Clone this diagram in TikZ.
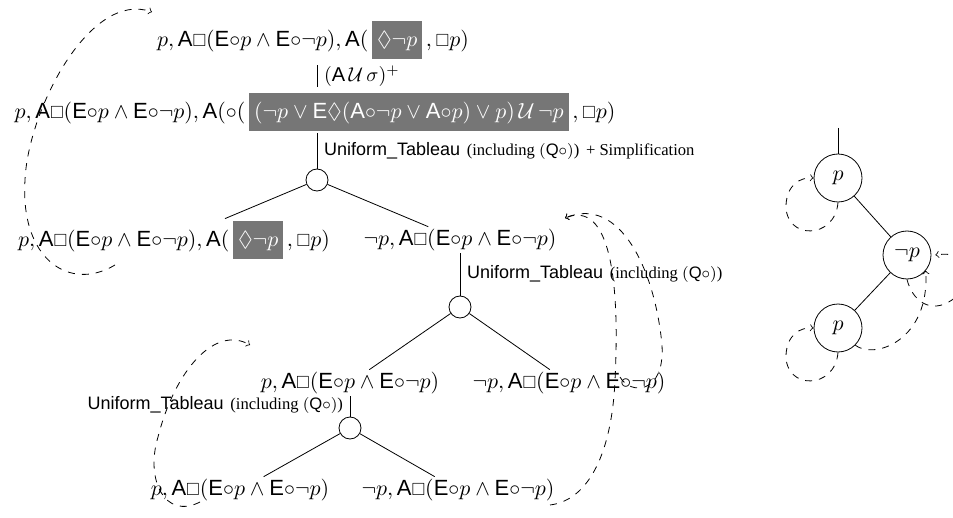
\documentclass[tikz,border=0pt]{standalone}
\usepackage{amssymb}
\usepackage{graphicx}
\usepackage{fontspec}
\setsansfont{Liberation Sans}
\newfontfamily\timesfont{Liberation Serif}
\definecolor{boxgray}{RGB}{118,118,118}
\newcommand{\pA}{\mathsf{A}}
\newcommand{\pE}{\mathsf{E}}
\newcommand{\sqbox}{\mathord{\scalebox{0.8}{$\Box$}}}
\newcommand{\greybox}[1]{{\setlength{\fboxsep}{2.5pt}\colorbox{boxgray}{\rule[-3.5pt]{0pt}{14pt}$\color{white}#1$}}}
\newcommand{\loopformula}{\pA\sqbox(\pE{\circ}p\wedge\pE{\circ}\neg p)}
\newcommand{\rulename}{{\fontsize{9}{11}\selectfont\textsf{Uniform\_Tableau}} {\fontsize{8.3}{10}\timesfont(including $(\mathsf{Q}{\circ})$)}}

\begin{document}
\begin{tikzpicture}[x=0.5pt,y=-0.5pt,
  formula/.style={inner sep=1pt,font=\fontsize{11}{13}\selectfont},
  branch/.style={draw,circle,minimum size=11pt,inner sep=0pt},
  state/.style={draw,circle,minimum size=24pt,inner sep=1pt,font=\fontsize{11}{13}\selectfont},
  loopback/.style={->,dash pattern=on 3.5pt off 3.5pt}]
\clip (0,0) rectangle (953,518);
%\draw[gray,very thin,step=50] (0,0) grid (953,518);

% tableau
\node[formula] (f1) at (313,40) {$p, \loopformula, \pA(\,\greybox{\Diamond\neg p}\,, \sqbox p)$};
\node[formula] (f2) at (315,112) {$p, \loopformula, \pA({\circ}(\,\greybox{(\neg p\vee\pE\Diamond(\pA{\circ}\neg p\vee\pA{\circ}p)\vee p)\,\mathcal{U}\,\neg p}\,, \sqbox p)$};
\node[branch] (j1) at (317,180) {};
\node[formula] (f3l) at (174,240) {$p, \loopformula, \pA(\,\greybox{\Diamond\neg p}\,, \sqbox p)$};
\node[formula] (f3r) at (460,240) {$\neg p, \loopformula$};
\node[branch] (j2) at (460,307) {};
\node[formula] (f4l) at (350,383) {$p, \loopformula$};
\node[formula] (f4r) at (569,383) {$\neg p, \loopformula$};
\node[branch] (j3) at (350,428) {};
\node[formula] (f5l) at (240,490) {$p, \loopformula$};
\node[formula] (f5r) at (458,490) {$\neg p, \loopformula$};

\draw[shorten <=2pt,shorten >=2pt] (f1.south -| j1) -- node[right] {$(\pA\,\mathcal{U}\,\sigma)^+$} (f2.north -| j1);
\draw (f2.south -| j1) -- node[right] {\rulename{} {\fontsize{8.3}{10}\timesfont + Simplification}} (j1);
\draw (j1) -- (f3l);
\draw (j1) -- (f3r);
\draw (f3r) -- node[right] {\rulename} (j2);
\draw (j2) -- (f4l);
\draw (j2) -- (f4r);
\draw (f4l) -- node[left,pos=0.45] {\rulename} (j3);
\draw (j3) -- (f5l);
\draw (j3) -- (f5r);

% loops back
\coordinate (c1) at (115,265);
\coordinate (c1e) at (152,12);
\coordinate (c2) at (200,502);
\coordinate (c2e) at (250,345);
\coordinate (c3) at (550,505);
\coordinate (c4) at (620,377);
\coordinate (c3e) at (565,218);
\draw[loopback] (c1) .. controls (70,292) and (20,260) .. (25,180) .. controls (28,110) and (90,-10) .. (c1e);
\draw[loopback] (c2) .. controls (165,520) and (145,480) .. (158,437) .. controls (175,370) and (215,325) .. (c2e);
\draw[loopback] (c3) .. controls (590,500) and (612,450) .. (615,380) .. controls (620,280) and (610,200) .. (c3e);
\draw[loopback] (c4) .. controls (630,395) and (665,395) .. (662,345) .. controls (655,270) and (620,195) .. (c3e);

% model
\coordinate (q0) at (838,128);
\node[state] (q1) at (838,178) {$p$};
\node[state] (q2) at (907,255) {$\neg p$};
\node[state] (q3) at (838,328) {$p$};
\draw (q0) -- (q1);
\draw (q1) -- (q2);
\draw (q2) -- (q3);
\draw[loopback] (q1.south) .. controls (835,240) and (785,240) .. (786,205) .. controls (787,185) and (800,177) .. (q1.west);
\draw[loopback] (q3.south) .. controls (835,390) and (785,390) .. (786,355) .. controls (787,335) and (800,327) .. (q3.west);
\draw[loopback] (q2.south) .. controls (912,300) and (930,315) .. (952,300) .. controls (985,275) and (970,250) .. ([xshift=2pt]q2.east);
\draw[loopback] (q3.south east) .. controls (875,360) and (930,340) .. (q2.-40);
\end{tikzpicture}
\end{document}
